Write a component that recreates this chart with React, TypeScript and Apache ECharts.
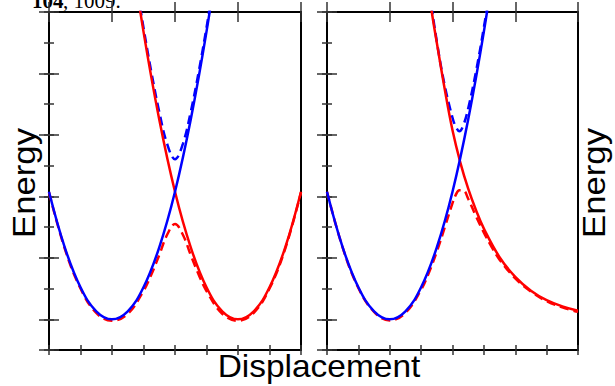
import React, { useEffect, useRef } from "react";
import * as echarts from "echarts";

// ---- data (displacement, energy) ----
const leftBlue: number[][] = [[0,5.15],[0.5,3.34],[1,2.04],[1.5,1.26],[2,1.0],[2.5,1.26],[3,2.04],[3.5,3.34],[4,5.15],[4.5,7.5],[5,10.36],[5.5,13.74]];
const leftRed: number[][] = [[2.5,13.74],[3,10.36],[3.5,7.5],[4,5.15],[4.5,3.34],[5,2.04],[5.5,1.26],[6,1.0],[6.5,1.26],[7,2.04],[7.5,3.34],[8,5.15]];
const leftLower: number[][] = [[0,5.13],[0.5,3.3],[1,2.0],[1.5,1.21],[2,0.95],[2.5,1.18],[3,1.92],[3.25,2.46],[3.5,3.09],[3.75,3.75],[4,4.1],[4.25,3.75],[4.5,3.09],[4.75,2.46],[5,1.92],[5.5,1.18],[6,0.95],[6.5,1.21],[7,2.0],[7.5,3.3],[8,5.13]];
const leftUpper: number[][] = [[2.75,12.08],[3,10.49],[3.25,9.04],[3.5,7.75],[3.75,6.71],[4,6.21],[4.25,6.71],[4.5,7.75],[4.75,9.04],[5,10.49],[5.25,12.08]];

const rightBlue: number[][] = [[0,5.15],[0.5,3.34],[1,2.04],[1.5,1.26],[2,1.0],[2.5,1.26],[3,2.04],[3.5,3.34],[4,5.15],[4.5,7.5],[5,10.36],[5.5,13.74]];
const rightRed: number[][] = [[3.2,12.1],[3.34,11],[3.5,10.0],[3.75,8.5],[4.0,7.15],[4.25,6.1],[4.5,5.25],[4.75,4.55],[5.0,3.95],[5.5,3.02],[6.0,2.38],[6.5,1.93],[7.0,1.62],[7.5,1.42],[8.0,1.28]];
const rightLower: number[][] = [[0,5.15],[0.5,3.33],[1,2.02],[1.5,1.24],[2,0.96],[2.5,1.21],[3,1.96],[3.25,2.52],[3.5,3.2],[3.75,3.98],[4.0,4.78],[4.1,5.04],[4.22,5.2],[4.35,5.19],[4.5,4.92],[4.75,4.35],[5,3.82],[5.25,3.35],[5.5,2.94],[6,2.33],[6.5,1.9],[7,1.59],[7.5,1.39],[8,1.24]];
const rightUpper: number[][] = [[3.15,12.57],[3.25,11.78],[3.5,10.04],[3.75,8.62],[4.0,7.56],[4.1,7.28],[4.22,7.12],[4.35,7.33],[4.5,7.86],[4.75,9.07],[5.0,10.5],[5.25,12.09]];

const xRange = [0, 8];
const yRange = [0, 11];
const citeBold = "104";
const citeRest = ", 1009.";
const yTitle = "Energy";
const xTitle = "Displacement";

const RED = "#ff0000";
const BLUE = "#0000ff";
const TICK = "#333333";

export default function App() {
  const ref = useRef<HTMLDivElement>(null);
  useEffect(() => {
    if (!ref.current) return;
    const chart = echarts.init(ref.current, undefined, { renderer: "svg" });
    const grids = [
      { left: 49, top: 12, width: 252, height: 338 },
      { left: 327, top: 12, width: 251, height: 338 },
    ];
    const xAxis: any[] = [];
    const yAxis: any[] = [];
    grids.forEach((_, gi) => {
      const base = {
        gridIndex: gi,
        type: "value",
        axisLine: { show: false },
        axisLabel: { show: false },
        splitLine: { show: false },
      };
      (["bottom", "top"] as const).forEach((pos) => {
        xAxis.push({ ...base, position: pos, min: xRange[0], max: xRange[1], interval: 1,
          axisTick: { show: true, inside: true, length: 5, lineStyle: { color: TICK, width: 1.5 } } });
        xAxis.push({ ...base, position: pos, min: xRange[0], max: xRange[1], interval: 2,
          axisTick: { show: true, inside: true, length: 10, lineStyle: { color: TICK, width: 1.5 } } });
      });
      (["left", "right"] as const).forEach((pos) => {
        yAxis.push({ ...base, position: pos, min: yRange[0], max: yRange[1], interval: 1,
          axisTick: { show: true, inside: true, length: 5, lineStyle: { color: TICK, width: 1.5 } } });
        yAxis.push({ ...base, position: pos, min: 0, max: 11, interval: 2, inverse: true,
          axisTick: { show: true, inside: true, length: 10, lineStyle: { color: TICK, width: 1.5 } } });
      });
    });
    // reorder so that index gi*4 is the data axis: already bottom-minor and left-minor are first per grid
    const mk = (gi: number, data: number[][], color: string, dashed: boolean) => ({
      type: "line",
      xAxisIndex: gi * 4,
      yAxisIndex: gi * 4,
      data,
      showSymbol: false,
      smooth: 0.4,
      clip: true,
      lineStyle: { color, width: 2.5, type: dashed ? [9, 5] : "solid" },
      silent: true,
    });
    chart.setOption({
      animation: false,
      grid: grids.map((g) => ({ ...g, show: true, borderColor: "#000", borderWidth: 2, backgroundColor: "transparent" })),
      xAxis,
      yAxis,
      series: [
        mk(0, leftLower, RED, true),
        mk(0, leftUpper, BLUE, true),
        mk(0, leftRed, RED, false),
        mk(0, leftBlue, BLUE, false),
        mk(1, rightLower, RED, true),
        mk(1, rightUpper, BLUE, true),
        mk(1, rightRed, RED, false),
        mk(1, rightBlue, BLUE, false),
      ],
      graphic: [
        { type: "text", x: 32, y: 1, style: { text: citeBold, fontFamily: "Liberation Serif", fontWeight: "bold", fontSize: 21, fill: "#000", align: "left", verticalAlign: "middle" } },
        { type: "text", x: 63, y: 1, style: { text: citeRest, fontFamily: "Liberation Serif", fontSize: 21, fill: "#000", align: "left", verticalAlign: "middle" } },
        { type: "text", x: 319, y: 366.5, scaleX: 1.08, style: { text: xTitle, fontFamily: "Liberation Sans", fontSize: 31, fill: "#000", align: "center", verticalAlign: "middle" } },
        { type: "text", x: 24.5, y: 183, rotation: Math.PI / 2, scaleX: 1.12, style: { text: yTitle, fontFamily: "Liberation Sans", fontSize: 31, fill: "#000", align: "center", verticalAlign: "middle" } },
        { type: "text", x: 594.5, y: 183, rotation: Math.PI / 2, scaleX: 1.12, style: { text: yTitle, fontFamily: "Liberation Sans", fontSize: 31, fill: "#000", align: "center", verticalAlign: "middle" } },
      ],
    });
    return () => chart.dispose();
  }, []);
  return <div ref={ref} style={{ position: "fixed", left: 0, top: 0, width: 615, height: 386, background: "#fff" }} />;
}
